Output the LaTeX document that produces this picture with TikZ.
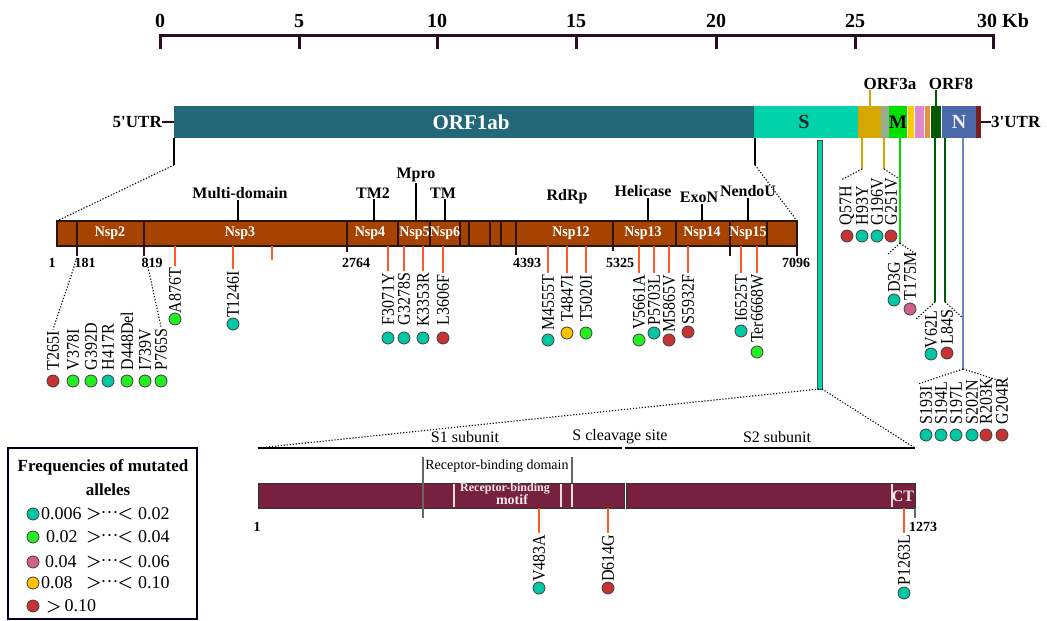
\documentclass[tikz,border=0pt]{standalone}
\usepackage{fontspec}
\setmainfont{Liberation Serif}

\definecolor{orfone}{HTML}{236878}
\definecolor{spike}{HTML}{00D2AA}
\definecolor{orfthree}{HTML}{D4A800}
\definecolor{envgray}{HTML}{98AA90}
\definecolor{memb}{HTML}{00E000}
\definecolor{orfsix}{HTML}{FFCC00}
\definecolor{orfseven}{HTML}{E088CC}
\definecolor{orfsevenb}{HTML}{E89040}
\definecolor{orfeight}{HTML}{005A00}
\definecolor{nucl}{HTML}{4A68A8}
\definecolor{nucline}{HTML}{6A88C4}
\definecolor{orften}{HTML}{7A2020}
\definecolor{scaleline}{HTML}{2D0A1E}
\definecolor{nspbrown}{HTML}{A64300}
\definecolor{nspedge}{HTML}{2A1410}
\definecolor{spikebar}{HTML}{78203F}
\definecolor{mutline}{HTML}{FF5A28}
\definecolor{fteal}{HTML}{00C8A4}
\definecolor{fgreen}{HTML}{22EE22}
\definecolor{fpink}{HTML}{D0608E}
\definecolor{fgold}{HTML}{FFC000}
\definecolor{fred}{HTML}{C83232}

\newcommand\fsz[1]{\fontsize{#1}{#1}\selectfont}

\tikzset{
  scalebar/.style={line width=3pt, draw=scaleline, line join=miter},
  kb/.style={font=\bfseries\fsz{20}, inner sep=0pt},
  gene/.style={font=\bfseries\fsz{20}, inner sep=0pt},
  utr/.style={font=\bfseries\fsz{17}, inner sep=0pt},
  utrline/.style={line width=1.5pt, draw=scaleline},
  orflab/.style={font=\bfseries\fsz{17}, inner sep=0pt},
  drop/.style={line width=1.2pt, draw=black},
  orfdrop/.style={line width=1.6pt},
  dotline/.style={line width=1.1pt, dash pattern=on 1.2pt off 1.8pt},
  nspbar/.style={fill=nspbrown, draw=nspedge, line width=1.2pt},
  nspsep/.style={draw=nspedge, line width=1.2pt},
  nsp/.style={font=\bfseries\fsz{14}, text=white, inner sep=0pt, yscale=1.05},
  domlab/.style={font=\bfseries\fsz{16}, inner sep=1pt},
  domline/.style={line width=1.2pt},
  posnum/.style={font=\bfseries\fsz{14}, inner sep=0pt},
  mut/.style={font=\fsz{16}, rotate=90, yscale=1.12, inner sep=1.5pt},
  mtick/.style={draw=mutline, line width=1.8pt},
  fdot/.style={circle, draw=black!75, line width=0.8pt, fill=#1, minimum size=12pt, inner sep=0pt},
  sstem/.style={fill=spike, draw=black!70, line width=0.8pt},
  subline/.style={line width=2pt},
  sublab/.style={font=\fsz{16}, inner sep=0pt},
  rbdline/.style={draw=black!60, line width=1.2pt},
  rbdlab/.style={font=\fsz{14}, inner sep=0pt},
  sbar/.style={fill=spikebar, draw=black!80, line width=1pt},
  sdiv/.style={draw=white!85!spikebar, line width=1.2pt},
  motif/.style={font=\bfseries\fsz{12}, text=white!90!spikebar, inner sep=0pt},
  legbox/.style={draw=black!85!blue, line width=1.2pt},
  legtitle/.style={font=\bfseries\fsz{17}, inner sep=0pt},
  legnum/.style={font=\fsz{18}, inner sep=0pt}
}

\begin{document}
\begin{tikzpicture}[x=1pt, y=-1pt]
  \useasboundingbox (0,0) rectangle (1047,621);

  % Scale in Kb
  \draw[scalebar] (160,49) -- (160,35) -- (993,35) -- (993,49);
  \foreach \x in {299,437,576,716,855} \draw[scalebar] (\x,35) -- (\x,49);
  \foreach \x/\t in {160/0,299/5,437/10,576/15,716/20,855/25}
    \node[kb] (kb\t) at (\x,21) {\t};
  \node[kb, anchor=west] (kb30) at (977,21) {30 Kb};

  % Genome
  \foreach \a/\b/\c in {174/754/orfone, 754/858/spike, 858/881/orfthree,
      881/889/envgray, 889/907/memb, 907.5/914/orfsix, 915/924/orfseven,
      925/929.5/orfsevenb, 930.5/940.5/orfeight, 941.5/976/nucl, 976/980.5/orften}
    \fill[\c] (\a,106) rectangle (\b,138);
  \node[gene, font=\bfseries\fsz{21}, text=white] (orf1ab) at (471,122) {ORF1ab};
  \node[gene, text=black!85] (sgene) at (804,122) {S};
  \node[gene, font=\bfseries\fsz{19}, text=black] (mgene) at (898,122) {M};
  \node[gene, text=white!92!blue] (ngene) at (959,122) {N};

  \node[utr, anchor=east] (utr5) at (162,122) {5\textquotesingle UTR};
  \draw[utrline] (utr5.east) -- (174,122);
  \node[utr, anchor=west] (utr3) at (991,122) {3\textquotesingle UTR};
  \draw[utrline] (980.5,122) -- (utr3.west);

  \node[orflab] (orf3a) at (890,84) {ORF3a};
  \node[orflab] (orf8) at (951,84) {ORF8};
  \coordinate (g3a) at (870,106);
  \coordinate (g8) at (936,106);
  \draw[orfdrop, line width=2pt, orfthree] (g3a) -- (g3a |- orf3a.south);
  \draw[orfdrop, line width=2pt, orfeight] (g8) -- (g8 |- orf8.south);

  % ORF1ab zoom
  \draw[drop] (174,138) -- (174,165) coordinate (zl);
  \draw[drop] (755,138) -- (755,165) coordinate (zr);
  \draw[dotline] (zl) -- (57,221);
  \draw[dotline] (zr) -- (797,221);

  % Nsp bar
  \draw[nspbar] (57,221) rectangle (797,246);
  \foreach \x in {77,144,347,398,430,460,469,490,501,516,613,676,730,767}
    \draw[nspsep] (\x,221) -- (\x,246);
  \foreach \x/\y in {77/256,144/256,347/252,516/255,613/251,730/256,797/256}
    \draw[nspsep] (\x,246) -- (\x,\y);
  \foreach \x/\t in {110/Nsp2,240/Nsp3,370/Nsp4,414.5/Nsp5,445/Nsp6,571/Nsp12,643/Nsp13,702/Nsp14,748/Nsp15}
    \node[nsp] (\t) at (\x,233.5) {\t};
  \foreach \x/\t in {52/1,85/181,152/819,356/2764,527/4393,620/5325,796/7096}
    \node[posnum] (p\t) at (\x,263) {\t};

  % Domains
  \foreach \n/\x/\y/\t/\lx in {multi/240/193/Multi-domain/238, tmtwo/373/193/TM2/374,
      mpro/416/175/Mpro/416, tm/443/193/TM/445, helic/643/191/Helicase/648,
      exon/699/197/ExoN/702, nendou/748/191/NendoU/748} {
    \node[domlab] (\n) at (\x,\y) {\t};
    \coordinate (d\n) at (\lx,221);
    \draw[domline] (d\n) -- (d\n |- \n.south);
  }
  \node[domlab] (rdrp) at (567,197) {RdRp};

  % Nsp mutations
  \foreach \x/\y/\lab/\col/\cy in {175/266/A876T/fgreen/319, 233/269/T1246I/fteal/324,
      388/271/F3071Y/fteal/338, 404/271/G3278S/fteal/338, 423/271/K3353R/fteal/338,
      443/273/L3606F/fred/338, 548/273/M4555T/fteal/340, 567/273/T4847I/fgold/333,
      586/273/T5020I/fgreen/333, 639/273/V5661A/fgreen/340, 654/273/P5703L/fteal/333,
      669/273/M5865V/fred/340, 688/273/S5932F/fred/332, 741/273/I6525T/fteal/331,
      757/273/Ter6668W/fgreen/352} {
    \node[mut, anchor=east] (m\lab) at (\x,\y) {\lab};
    \node[fdot=\col] (c\lab) at (\x,\cy) {};
    \draw[mtick] (\x,246) -- (m\lab.east);
  }
  \draw[mtick] (272,246) -- (272,260);

  \foreach \x/\lab/\col in {53/T265I/fred, 73/V378I/fgreen, 91/G392D/fgreen,
      108/H417R/fteal, 127/D448Del/fgreen, 145/I739V/fgreen, 161/P765S/fgreen} {
    \node[mut, anchor=west] (m\lab) at (\x,372) {\lab};
    \node[fdot=\col] (c\lab) at (\x,381) {};
  }
  \draw[dotline] (77,258) -- (mT265I.east);
  \draw[dotline] (146,258) -- (mP765S.east);

  % ORF3a
  \draw[orfdrop, orfthree] (862,138) -- (862,169) coordinate (qa);
  \draw[orfdrop, orfthree] (884,138) -- (884,169) coordinate (qb);
  \draw[dotline] (qa) -- (841,180);
  \draw[dotline] (qb) -- (898,178);
  \foreach \x/\lab/\col in {847/Q57H/fred, 862/H93Y/fteal, 877/G196V/fteal, 891/G251V/fred} {
    \node[mut, anchor=west] (m\lab) at (\x,227) {\lab};
    \node[fdot=\col] (c\lab) at (\x,236) {};
  }

  % M
  \draw[orfdrop, memb] (900,138) -- (900,243) coordinate (ma);
  \draw[dotline] (ma) -- (887,255);
  \draw[dotline] (ma) -- (917,255);

  % ORF8
  \draw[orfdrop, line width=2pt, orfeight] (935,138) -- (935,302) coordinate (ea);
  \draw[orfdrop, line width=2pt, orfeight] (945,138) -- (945,302) coordinate (eb);
  \draw[dotline] (ea) -- (915,320);
  \draw[dotline] (eb) -- (963,318);

  \foreach \x/\y/\lab/\col/\cy in {894/260/D3G/fteal/300, 910/251/T175M/fpink/309,
      931/309/V62L/fteal/354, 947/308/L84S/fred/353} {
    \node[mut, anchor=east] (m\lab) at (\x,\y) {\lab};
    \node[fdot=\col] (c\lab) at (\x,\cy) {};
  }

  % N
  \draw[orfdrop, line width=2.5pt, nucline] (963,138) -- (963,369) coordinate (na);
  \draw[dotline] (na) -- (918,384);
  \draw[dotline] (na) -- (1007,383);
  \foreach \x/\lab/\col in {926/S193I/fteal, 941/S194L/fteal, 956/S197L/fteal,
      972/S202N/fteal, 986/R203K/fred, 1002/G204R/fred} {
    \node[mut, anchor=west] (m\lab) at (\x,426) {\lab};
    \node[fdot=\col] (c\lab) at (\x,435) {};
  }

  % S protein
  \draw[sstem] (817,140) rectangle (822,389);
  \draw[dotline] (819,389) -- (258,448);
  \draw[dotline] (822,389) -- (915,448);
  \draw[subline] (258,448) -- (622,448);
  \draw[subline] (625,448) -- (915,448);
  \node[sublab] (sone) at (465,437) {S1 subunit};
  \node[sublab] (scleave) at (620,437) {S cleavage site};
  \node[sublab] (stwo) at (777,437) {S2 subunit};

  \draw[sbar] (258,483) rectangle (624,508);
  \draw[sbar] (626,483) rectangle (915,508);
  \foreach \x in {454,561,572,892} \draw[sdiv] (\x,484) -- (\x,507);
  \draw[rbdline] (423,457) -- (423,518);
  \draw[rbdline] (572,457) -- (572,483);
  \draw[rbdline] (915,508) -- (915,518);
  \node[rbdlab] (rbd) at (497,466) {Receptor-binding domain};
  \node[motif] (rbmtop) at (505,489) {Receptor-binding};
  \node[motif, font=\bfseries\fsz{14}] (rbmbot) at (512,500) {motif};
  \node[motif, font=\bfseries\fsz{16}] (ct) at (903,496) {CT};
  \node[posnum] (sfirst) at (257,527) {1};
  \node[posnum] (slast) at (923,527) {1273};

  \foreach \x/\y/\lab/\col/\cy in {539/533/V483A/fteal/588, 608/533/D614G/fred/588,
      904/533/P1263L/fteal/593} {
    \node[mut, anchor=east] (m\lab) at (\x,\y) {\lab};
    \node[fdot=\col] (c\lab) at (\x,\cy) {};
    \draw[mtick] (\x,508) -- (m\lab.east);
  }

  % Legend
  \draw[legbox] (8,448) rectangle (197,619);
  \node[legtitle] (legt1) at (103,467) {Frequencies of mutated};
  \node[legtitle] (legt2) at (108,490) {alleles};
  \foreach \y/\col/\ax/\a/\b [count=\i] in {514/fteal/41/0.006/0.02, 537/fgreen/46/0.02/0.04,
      562/fpink/45/0.04/0.06, 583/fgold/41/0.08/0.10} {
    \node[fdot=\col] (lc\i) at (33,\y) {};
    \node[legnum, anchor=west] (la\i) at (\ax,\y) {\a};
    \node[legnum, anchor=west] (ls\i) at (86,\y) {{\boldmath$>$}\kern-1pt···\kern-1pt{\boldmath$<$}};
    \node[legnum, anchor=west] (lb\i) at (138,\y) {\b};
  }
  \node[fdot=fred] (lc5) at (33,606) {};
  \node[legnum, anchor=west] (la5) at (46,606) {{\boldmath$>$}\kern3pt0.10};
\end{tikzpicture}
\end{document}
